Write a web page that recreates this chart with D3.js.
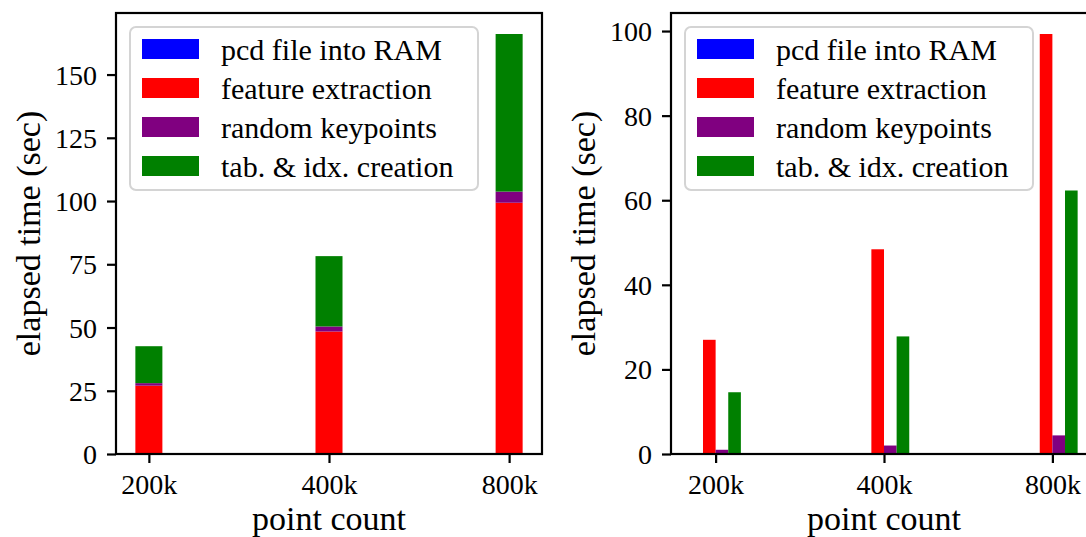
<!DOCTYPE html>
<html>
<head>
<meta charset="utf-8">
<script src="https://cdn.jsdelivr.net/npm/d3@7"></script>
<style>
  html, body { margin: 0; padding: 0; background: #fff; }
  svg { display: block; }
</style>
</head>
<body>
<svg id="chart" width="1086" height="537"></svg>
<script>
// Point-cloud processing timings per input size (seconds)
const categories = ["200k", "400k", "800k"];
const pcdLoad = [0.01, 0.02, 0.03];
const featureExtraction = [27.0, 48.4, 99.3];
const randomKeypoints = [1.0, 2.0, 4.4];
const tableIndexCreation = [14.6, 27.8, 62.3];

const seriesNames = ["pcd file into RAM", "feature extraction", "random keypoints", "tab. & idx. creation"];
const seriesColors = ["#0000ff", "#ff0000", "#800080", "#008000"];
const seriesValues = [pcdLoad, featureExtraction, randomKeypoints, tableIndexCreation];

const leftTicks = [0, 25, 50, 75, 100, 125, 150];
const rightTicks = [0, 20, 40, 60, 80, 100];

const FAMILY = '"Liberation Serif", "Times New Roman", serif';
const LABEL_FONT = 34, TICK_FONT = 28, LEGEND_FONT = 30;
const svg = d3.select("#chart");

// Pixel frames of the two axes
const panels = [
  { x0: 116, x1: 542, y0: 13, y1: 454, yLabelX: 40, stacked: true, ticks: leftTicks },
  { x0: 671, x1: 1097, y0: 13, y1: 454, yLabelX: 595, stacked: false, ticks: rightTicks }
];

function styleText(sel, size) {
  return sel.style("font-family", FAMILY).attr("font-size", size).attr("fill", "#000");
}

function drawPanel(p) {
  const g = svg.append("g");
  const n = categories.length;
  const idx = d3.range(n);

  // bar geometry in category units
  let bars = [];
  let lo, hi, ymax;
  if (p.stacked) {
    const w = 0.15;
    idx.forEach(i => {
      let base = 0;
      seriesValues.forEach((vals, s) => {
        bars.push({ x: i - w / 2, w, y0: base, y1: base + vals[i], color: seriesColors[s] });
        base += vals[i];
      });
    });
    lo = -w / 2; hi = n - 1 + w / 2;
    ymax = d3.max(idx, i => d3.sum(seriesValues, v => v[i]));
  } else {
    const w = 0.075;
    idx.forEach(i => {
      seriesValues.forEach((vals, s) => {
        const c = i + (s - 1.5) * w;
        bars.push({ x: c - w / 2, w, y0: 0, y1: vals[i], color: seriesColors[s] });
      });
    });
    lo = -2 * w; hi = n - 1 + 2 * w;
    ymax = d3.max(seriesValues, v => d3.max(v));
  }
  const pad = (hi - lo) * 0.05;
  const x = d3.scaleLinear().domain([lo - pad, hi + pad]).range([p.x0, p.x1]);
  const y = d3.scaleLinear().domain([0, ymax * 1.05]).range([p.y1, p.y0]);

  const clipId = "clip" + p.x0;
  svg.append("clipPath").attr("id", clipId)
    .append("rect").attr("x", p.x0).attr("y", p.y0).attr("width", p.x1 - p.x0).attr("height", p.y1 - p.y0);

  g.append("g").attr("clip-path", `url(#${clipId})`)
    .selectAll("rect").data(bars).join("rect")
    .attr("x", d => x(d.x))
    .attr("width", d => x(d.x + d.w) - x(d.x))
    .attr("y", d => y(d.y1))
    .attr("height", d => Math.max(0, y(d.y0) - y(d.y1)))
    .attr("fill", d => d.color);

  // axes
  const xAxis = d3.axisBottom(x).tickValues(idx).tickFormat(i => categories[i])
    .tickSize(9).tickPadding(10);
  const yAxis = d3.axisLeft(y).tickValues(p.ticks).tickSize(9).tickPadding(10);

  const gx = g.append("g").attr("transform", `translate(0,${p.y1})`).call(xAxis);
  const gy = g.append("g").attr("transform", `translate(${p.x0},0)`).call(yAxis);
  [gx, gy].forEach(a => {
    a.attr("font-family", null).attr("font-size", null);
    a.select(".domain").remove();
    a.selectAll(".tick line").attr("stroke", "#000").attr("stroke-width", 2.2);
    styleText(a.selectAll(".tick text"), TICK_FONT);
  });
  gx.selectAll(".tick text").attr("dy", "0.76em");
  gy.selectAll(".tick text").attr("dy", "0.34em");

  // spines
  g.append("rect").attr("x", p.x0).attr("y", p.y0)
    .attr("width", p.x1 - p.x0).attr("height", p.y1 - p.y0)
    .attr("fill", "none").attr("stroke", "#000").attr("stroke-width", 2.2);

  // axis labels
  styleText(g.append("text"), LABEL_FONT).attr("x", (p.x0 + p.x1) / 2).attr("y", 530)
    .attr("text-anchor", "middle").text("point count");
  styleText(g.append("text"), LABEL_FONT)
    .attr("transform", `translate(${p.yLabelX},${(p.y0 + p.y1) / 2}) rotate(-90)`)
    .attr("text-anchor", "middle").text("elapsed time (sec)");

  // legend
  const lx = p.x0 + 14, ly = 27, lw = 348, lh = 163;
  const lg = g.append("g");
  lg.append("rect").attr("x", lx).attr("y", ly).attr("width", lw).attr("height", lh)
    .attr("rx", 6).attr("fill", "#fff").attr("fill-opacity", 0.8)
    .attr("stroke", "#d4d4d4").attr("stroke-width", 2);
  seriesNames.forEach((name, s) => {
    const cy = 49 + s * 39;
    lg.append("rect").attr("x", lx + 12).attr("y", cy - 10).attr("width", 57).attr("height", 20)
      .attr("fill", seriesColors[s]);
    styleText(lg.append("text"), LEGEND_FONT).attr("x", lx + 91).attr("y", cy).attr("dy", "0.35em").text(name);
  });
}

panels.forEach(drawPanel);
</script>
</body>
</html>
